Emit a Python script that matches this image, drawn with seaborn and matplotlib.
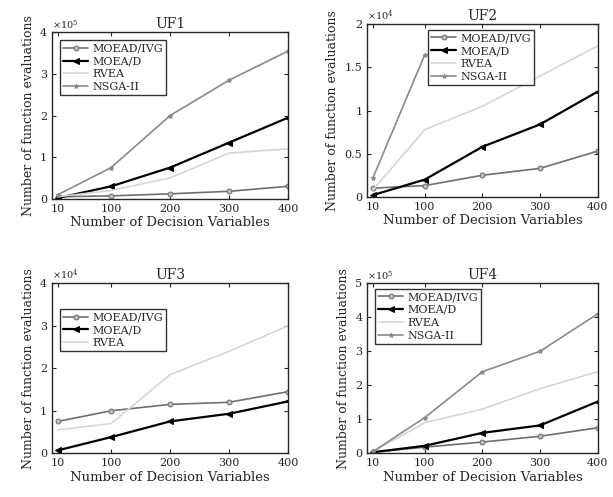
import numpy as np
import pandas as pd
import matplotlib
matplotlib.use("Agg")
import matplotlib.pyplot as plt
import seaborn as sns

x_vars = [10, 100, 200, 300, 400]
x_ticks = [10, 100, 200, 300, 400]

# UF1 (x1e5)
uf1_ivg = [0.05, 0.07, 0.12, 0.18, 0.30]
uf1_moead = [0.02, 0.30, 0.75, 1.35, 1.95]
uf1_rvea = [0.05, 0.20, 0.50, 1.10, 1.20]
uf1_nsga = [0.10, 0.75, 2.00, 2.85, 3.55]

# UF2 (x1e4)
uf2_ivg = [0.10, 0.13, 0.25, 0.33, 0.53]
uf2_moead = [0.02, 0.20, 0.58, 0.84, 1.22]
uf2_rvea = [0.08, 0.78, 1.05, 1.40, 1.75]
uf2_nsga = [0.22, 1.65, np.nan, np.nan, np.nan]

# UF3 (x1e4)
uf3_ivg = [0.75, 1.00, 1.15, 1.20, 1.45]
uf3_moead = [0.07, 0.38, 0.75, 0.93, 1.22]
uf3_rvea = [0.55, 0.70, 1.85, 2.40, 3.00]

# UF4 (x1e5)
uf4_ivg = [0.03, 0.18, 0.33, 0.50, 0.75]
uf4_moead = [0.03, 0.22, 0.60, 0.82, 1.52]
uf4_rvea = [0.05, 0.90, 1.30, 1.90, 2.40]
uf4_nsga = [0.05, 1.05, 2.40, 3.00, 4.10]

styles = {
    "MOEAD/IVG": dict(color="#6f6f6f", marker="o", markersize=3.5, lw=1.2, mfc="#bdbdbd"),
    "MOEA/D": dict(color="black", marker="<", markersize=5, lw=1.6),
    "RVEA": dict(color="#d6d6d6", marker=None, lw=1.2),
    "NSGA-II": dict(color="#8a8a8a", marker="*", markersize=3.5, lw=1.2),
}

panels = [
    ("UF1", {"MOEAD/IVG": uf1_ivg, "MOEA/D": uf1_moead, "RVEA": uf1_rvea, "NSGA-II": uf1_nsga},
     [0, 1, 2, 3, 4], ["0", "1", "2", "3", "4"], r"$\times 10^5$", [0.085, 0.6, 0.385, 0.335], (0.01, 0.985)),
    ("UF2", {"MOEAD/IVG": uf2_ivg, "MOEA/D": uf2_moead, "RVEA": uf2_rvea, "NSGA-II": uf2_nsga},
     [0, 0.5, 1, 1.5, 2], ["0", "0.5", "1", "1.5", "2"], r"$\times 10^4$", [0.599, 0.604, 0.376, 0.347], (0.24, 1.0)),
    ("UF3", {"MOEAD/IVG": uf3_ivg, "MOEA/D": uf3_moead, "RVEA": uf3_rvea},
     [0, 1, 2, 3, 4], ["0", "1", "2", "3", "4"], r"$\times 10^4$", [0.085, 0.088, 0.385, 0.342], (0.01, 0.88)),
    ("UF4", {"MOEAD/IVG": uf4_ivg, "MOEA/D": uf4_moead, "RVEA": uf4_rvea, "NSGA-II": uf4_nsga},
     [0, 1, 2, 3, 4, 5], ["0", "1", "2", "3", "4", "5"], r"$\times 10^5$", [0.599, 0.088, 0.376, 0.342], (0.01, 1.0)),
]

sns.set_style("ticks")
plt.rcParams["font.family"] = ["DejaVu Serif"]
plt.rcParams["mathtext.fontset"] = "dejavuserif"

fig = plt.figure(figsize=(6.13, 4.97), dpi=100)

for title, series, yticks, ylabels, expo, pos, legloc in panels:
    ax = fig.add_axes(pos)
    for name, vals in series.items():
        df = pd.DataFrame({"x": x_vars, "y": vals}).dropna()
        st = styles[name]
        sns.lineplot(data=df, x="x", y="y", ax=ax, label=name, color=st["color"],
                     marker=st["marker"], markersize=st.get("markersize", 4),
                     linewidth=st["lw"], markeredgecolor=st["color"],
                     markerfacecolor=st.get("mfc", st["color"]))
    ax.set_xlim(0, 400)
    ax.set_ylim(yticks[0], yticks[-1])
    ax.set_xticks(x_ticks)
    ax.set_yticks(yticks)
    ax.set_yticklabels(ylabels)
    ax.tick_params(direction="in", labelsize=8, length=3, top=True, right=True)
    for s in ax.spines.values():
        s.set_linewidth(1.0)
        s.set_visible(True)
    ax.set_title(title, fontsize=10, pad=3)
    ax.set_xlabel("Number of Decision Variables", fontsize=9.5, labelpad=2)
    ax.set_ylabel("Number of function evaluations", fontsize=9, labelpad=4)
    ax.text(0.0, 1.01, expo, transform=ax.transAxes, fontsize=7, va="bottom", ha="left")
    leg = ax.legend(loc="upper left", bbox_to_anchor=legloc, fontsize=8, frameon=True,
                    fancybox=False, edgecolor="black", handlelength=2.2,
                    borderpad=0.3, labelspacing=0.25, handletextpad=0.4)
    leg.get_frame().set_linewidth(1.0)

fig.savefig("out.png", dpi=100)
